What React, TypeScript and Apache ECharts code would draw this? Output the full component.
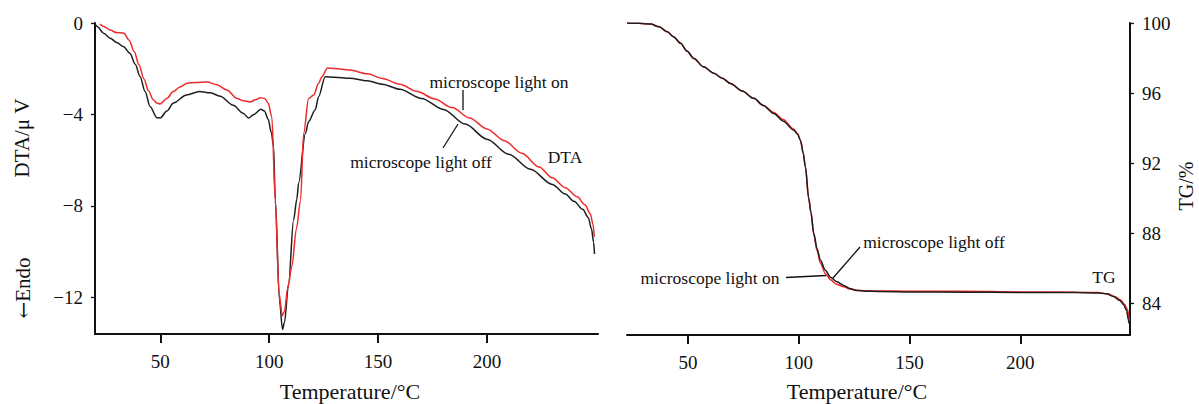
import React, { useEffect, useRef } from "react";
import * as echarts from "echarts";

// DTA, microscope light off (black)
const dtaOffT = [20.2, 21, 24, 27, 30, 33, 36, 38.5, 40.7, 43, 45.3, 48.4, 50, 53, 56, 62, 68, 73, 77.5, 83.5, 88, 90.5, 93, 96.2, 97.8, 99.5, 101, 102, 102.8, 104.7, 106.1, 107, 108.9, 111.2, 112.7, 113.5, 116.6, 118.1, 121.1, 122.7, 125.7, 130, 137, 145, 152, 160, 170, 180, 190, 200, 210, 220, 230, 236, 240, 244, 246.5, 248, 249, 249.4];
const dtaOffV = [-0.08, -0.15, -0.45, -0.67, -0.85, -1.03, -1.32, -1.8, -2.34, -3.0, -3.65, -4.14, -4.15, -3.85, -3.5, -3.15, -3.0, -3.05, -3.2, -3.6, -3.95, -4.15, -4.0, -3.77, -3.85, -4.2, -4.8, -5.4, -7.75, -12.1, -13.4, -13.1, -11.4, -8.6, -7.7, -7.0, -4.83, -4.32, -3.8, -3.22, -2.35, -2.37, -2.42, -2.53, -2.68, -2.9, -3.3, -3.78, -4.42, -5.08, -5.74, -6.4, -7.06, -7.48, -7.8, -8.15, -8.5, -9.0, -9.6, -10.1];

// DTA, microscope light on (red)
const dtaOnT = [22.3, 24, 27, 29.6, 33.3, 35.6, 38, 40.2, 42.5, 44.5, 46.8, 48.5, 49.9, 53, 56, 59, 62.3, 66, 71.5, 76, 80.5, 85.3, 88, 91.3, 94, 95.9, 98, 99.5, 101.2, 102.8, 104.5, 106, 107, 108.5, 110.4, 112.5, 114.4, 115.8, 118.1, 120.4, 122.7, 124.2, 126.8, 130, 137, 145, 152, 160, 168, 176, 184, 192, 200, 208, 216, 224, 230, 236, 241.5, 245, 247.5, 248.7, 249.3];
const dtaOnV = [-0.05, -0.15, -0.31, -0.41, -0.45, -0.74, -1.25, -1.83, -2.45, -2.95, -3.36, -3.5, -3.54, -3.3, -3.0, -2.8, -2.63, -2.6, -2.58, -2.7, -2.93, -3.3, -3.4, -3.45, -3.35, -3.27, -3.3, -3.5, -4.1, -7.75, -11.8, -12.8, -12.6, -11.6, -10.65, -9.0, -7.75, -4.83, -3.3, -3.15, -2.64, -2.35, -1.97, -1.99, -2.06, -2.22, -2.43, -2.68, -3.0, -3.32, -3.7, -4.15, -4.63, -5.15, -5.7, -6.3, -6.77, -7.2, -7.6, -7.95, -8.35, -8.8, -9.35];

// TG, microscope light off (black)
const tgOffT = [22.5, 28, 33.2, 37, 40.7, 43.5, 46.7, 49.5, 52.7, 57, 61.7, 65.5, 69.2, 74.5, 79.7, 84, 88.7, 93, 97.7, 99.5, 100.8, 102, 103, 104.5, 105.5, 106.8, 108.3, 109.8, 112, 114.3, 117, 120.3, 123, 126.3, 130, 136.8, 150, 175, 200, 225, 235, 238.9, 242, 244.9, 246.5, 248, 248.7, 249.1];
const tgOffV = [100, 99.98, 99.94, 99.78, 99.5, 99.22, 98.84, 98.4, 97.98, 97.5, 97.13, 96.85, 96.55, 96.12, 95.7, 95.3, 94.84, 94.4, 93.89, 93.65, 93.3, 92.6, 91.8, 90.0, 89.2, 88.0, 87.1, 86.46, 85.9, 85.5, 85.25, 85.03, 84.85, 84.74, 84.7, 84.68, 84.66, 84.64, 84.63, 84.62, 84.6, 84.55, 84.4, 84.17, 83.95, 83.6, 83.1, 82.85];

// TG, microscope light on (red)
const tgOnT = [22.5, 28, 33.2, 37, 40.7, 43.5, 46.7, 49.5, 52.7, 57, 61.7, 65.5, 69.2, 74.5, 79.7, 84, 88.7, 93, 97.7, 99.5, 100.8, 102, 103, 104.5, 105.5, 106.8, 108.3, 109.8, 112, 114.3, 117, 120.3, 123, 126.3, 130, 136.8, 150, 175, 200, 225, 235, 239.5, 242.5, 245.3, 247, 248.4, 249.2];
const tgOnV = [100, 99.98, 99.94, 99.78, 99.5, 99.22, 98.84, 98.4, 97.98, 97.5, 97.13, 96.85, 96.55, 96.12, 95.7, 95.3, 94.9, 94.5, 93.95, 93.68, 93.3, 92.6, 91.8, 90.0, 89.2, 87.9, 87.0, 86.3, 85.7, 85.35, 85.1, 84.95, 84.82, 84.75, 84.72, 84.71, 84.7, 84.7, 84.66, 84.64, 84.62, 84.55, 84.4, 84.2, 83.95, 83.65, 83.0];

const xTicks = [50, 100, 150, 200];
const dtaTicks = [-12, -8, -4, 0];
const tgTicks = [84, 88, 92, 96, 100];

const FONT = "'Liberation Serif', 'Times New Roman', serif";
const INK = "#111111";
const BLACK_LINE = "#1e1e1e";
const RED_LINE = "#ee2b2b";

const zip = (a: number[], b: number[]) => a.map((t, i) => [t, b[i]]);
const fmtNum = (v: number) => (v < 0 ? "\u2212" + Math.abs(v) : String(v));

export default function App() {
  const ref = useRef<HTMLDivElement>(null);
  useEffect(() => {
    if (!ref.current) return;
    const chart = echarts.init(ref.current, null, { renderer: "svg" });
    const xAxisBase = {
      type: "value" as const,
      axisLine: { show: true, onZero: false, lineStyle: { color: INK, width: 2 } },
      axisTick: { show: true, inside: false, length: 9, lineStyle: { color: INK, width: 2 }, customValues: xTicks },
      axisLabel: { show: true, margin: 18, fontSize: 19, fontFamily: FONT, color: INK, customValues: xTicks },
      splitLine: { show: false },
    };
    const text = (t: string, x: number, y: number, size: number, rotation = 0, rich?: any) => ({
      type: "text",
      x,
      y,
      rotation,
      silent: true,
      style: {
        text: t,
        fill: INK,
        fontSize: size,
        fontFamily: FONT,
        align: "center",
        verticalAlign: "middle",
        textAlign: "center",
        textVerticalAlign: "middle",
        ...(rich ? { rich } : {}),
      },
    });
    const seg = (x1: number, y1: number, x2: number, y2: number) => ({
      type: "line",
      silent: true,
      shape: { x1, y1, x2, y2 },
      style: { stroke: INK, lineWidth: 1.3 },
    });
    const lineSeries = (data: number[][], color: string, xi: number, yi: number, z: number) => ({
      type: "line",
      xAxisIndex: xi,
      yAxisIndex: yi,
      data,
      showSymbol: false,
      smooth: 0.3,
      smoothMonotone: "x",
      z,
      lineStyle: { color, width: 1.5 },
    });
    chart.setOption({
      animation: false,
      backgroundColor: "#ffffff",
      grid: [
        { left: 95, top: 23, width: 503, height: 311, show: false },
        { left: 627, top: 23, width: 503, height: 312, show: false },
      ],
      xAxis: [
        { ...xAxisBase, gridIndex: 0, min: 20, max: 251, position: "bottom" },
        { ...xAxisBase, gridIndex: 1, min: 22.5, max: 249.5, position: "bottom" },
      ],
      yAxis: [
        {
          type: "value",
          gridIndex: 0,
          min: -13.6,
          max: 0,
          position: "left",
          axisLine: { show: true, onZero: false, lineStyle: { color: INK, width: 2 } },
          axisTick: { show: true, inside: false, length: 4, lineStyle: { color: INK, width: 1.3 }, customValues: dtaTicks },
          axisLabel: { show: true, margin: 12, fontSize: 19, fontFamily: FONT, color: INK, customValues: dtaTicks, formatter: (v: number) => fmtNum(v) },
          splitLine: { show: false },
        },
        {
          type: "value",
          gridIndex: 1,
          min: 82.2,
          max: 100,
          position: "right",
          axisLine: { show: true, onZero: false, lineStyle: { color: INK, width: 2 } },
          axisTick: { show: true, inside: false, length: 4, lineStyle: { color: INK, width: 1.3 }, customValues: tgTicks },
          axisLabel: { show: true, margin: 12, fontSize: 19, fontFamily: FONT, color: INK, customValues: tgTicks },
          splitLine: { show: false },
        },
      ],
      series: [
        lineSeries(zip(dtaOffT, dtaOffV), BLACK_LINE, 0, 0, 2),
        lineSeries(zip(dtaOnT, dtaOnV), RED_LINE, 0, 0, 3),
        lineSeries(zip(tgOnT, tgOnV), RED_LINE, 1, 1, 2),
        lineSeries(zip(tgOffT, tgOffV), BLACK_LINE, 1, 1, 3),
      ],
      graphic: [
        text("Temperature/\u00B0C", 350, 391, 22),
        text("Temperature/\u00B0C", 857, 391, 22),
        text("DTA/\u03BC V", 22, 138, 21, Math.PI / 2),
        text("{a|\u2190}Endo", 23, 288, 21, Math.PI / 2, {
          a: { fontFamily: "'DejaVu Serif', serif", fontSize: 20, fill: INK },
        }),
        text("TG/%", 1186, 186, 20, Math.PI / 2),
        text("microscope light on", 499, 82, 17.5),
        seg(463, 90, 463, 110),
        text("microscope light off", 421, 162, 17.5),
        seg(443, 148, 458, 124),
        text("DTA", 565, 157, 17.5),
        text("microscope light on", 710, 278, 17.5),
        seg(786, 277.5, 826, 275.5),
        text("microscope light off", 934, 242, 17.5),
        seg(833, 278, 860, 247),
        text("TG", 1104, 277, 17.5),
      ],
    });
    return () => chart.dispose();
  }, []);
  return (
    <div
      ref={ref}
      style={{ position: "fixed", left: 0, top: 0, width: 1199, height: 404, background: "#fff" }}
    />
  );
}
